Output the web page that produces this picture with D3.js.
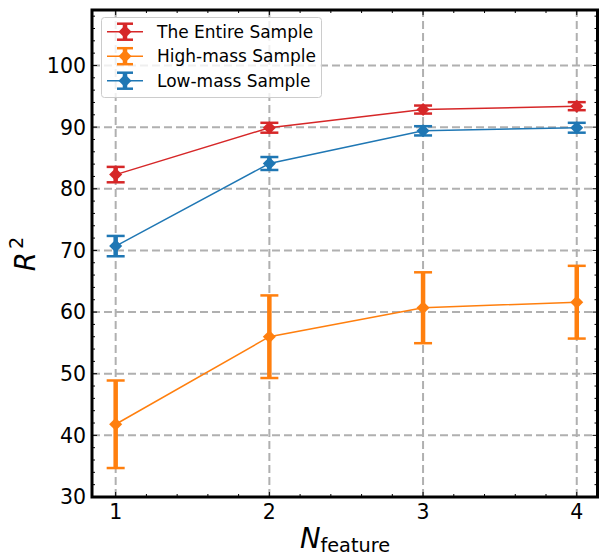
<!DOCTYPE html>
<html>
<head>
<meta charset="utf-8">
<script src="https://cdn.jsdelivr.net/npm/d3@7"></script>
<style>
  body { margin: 0; background: white; }
  text { font-family: "DejaVu Sans", sans-serif; }
</style>
</head>
<body>
<svg id="chart" width="600" height="557"></svg>
<script>
// data
const nFeature = [1, 2, 3, 4];
const entireR2 = [82.3, 89.9, 92.85, 93.4];
const entireErr = [1.25, 0.8, 0.65, 0.65];
const highR2 = [41.8, 56.0, 60.7, 61.6];
const highErr = [7.1, 6.7, 5.75, 5.9];
const lowR2 = [70.7, 84.1, 89.4, 89.9];
const lowErr = [1.65, 1.05, 0.75, 0.8];
const seriesNames = ["The Entire Sample", "High-mass Sample", "Low-mass Sample"];
const seriesColors = ["#d62728", "#ff7f0e", "#1f77b4"];
const xTicks = [1, 2, 3, 4];
const yTicks = [30, 40, 50, 60, 70, 80, 90, 100];

const series = [
  {name: seriesNames[0], color: seriesColors[0], y: entireR2, err: entireErr},
  {name: seriesNames[1], color: seriesColors[1], y: highR2, err: highErr},
  {name: seriesNames[2], color: seriesColors[2], y: lowR2, err: lowErr}
];

const svg = d3.select("#chart");
const pLeft = 92, pRight = 597.5, pTop = 10, pBottom = 497;

const x = d3.scaleLinear().domain([0.846, 4.135]).range([pLeft, pRight]);
const y = d3.scaleLinear().domain([30, 109]).range([pBottom, pTop]);

// grid
const grid = svg.append("g");
grid.selectAll(".gx").data(xTicks).enter().append("line")
  .attr("x1", d => x(d)).attr("x2", d => x(d))
  .attr("y1", pBottom).attr("y2", pTop)
  .attr("stroke", "#b0b0b0").attr("stroke-width", 2).attr("stroke-dasharray", "8,4");
grid.selectAll(".gy").data(yTicks).enter().append("line")
  .attr("x1", pLeft).attr("x2", pRight)
  .attr("y1", d => y(d)).attr("y2", d => y(d))
  .attr("stroke", "#b0b0b0").attr("stroke-width", 2).attr("stroke-dasharray", "8,4");

// ticks on all four sides, pointing in
const xMinor = d3.range(0.8, 4.2, 0.2).filter(v => x(v) > pLeft + 1 && x(v) < pRight - 1 && Math.abs(v - Math.round(v)) > 0.01);
const yMinor = d3.range(30, 110, 2).filter(v => v % 10 != 0);
const ticks = svg.append("g").attr("stroke", "black").attr("stroke-width", 1);
function xTickMarks(vals, len) {
  ticks.selectAll(null).data(vals).enter().append("line")
    .attr("x1", d => x(d)).attr("x2", d => x(d)).attr("y1", pBottom).attr("y2", pBottom - len);
  ticks.selectAll(null).data(vals).enter().append("line")
    .attr("x1", d => x(d)).attr("x2", d => x(d)).attr("y1", pTop).attr("y2", pTop + len);
}
function yTickMarks(vals, len) {
  ticks.selectAll(null).data(vals).enter().append("line")
    .attr("y1", d => y(d)).attr("y2", d => y(d)).attr("x1", pLeft).attr("x2", pLeft + len);
  ticks.selectAll(null).data(vals).enter().append("line")
    .attr("y1", d => y(d)).attr("y2", d => y(d)).attr("x1", pRight).attr("x2", pRight - len);
}
xTickMarks(xTicks, 5); xTickMarks(xMinor, 3);
yTickMarks(yTicks, 5); yTickMarks(yMinor, 3);

// tick labels
svg.append("g").selectAll("text").data(xTicks).enter().append("text")
  .attr("x", d => x(d)).attr("y", 518.5)
  .attr("text-anchor", "middle").attr("font-size", 20.5).attr("fill", "black")
  .text(d => d);
svg.append("g").selectAll("text").data(yTicks).enter().append("text")
  .attr("x", 86).attr("y", d => y(d)).attr("dy", "0.36em")
  .attr("text-anchor", "end").attr("font-size", 20.5).attr("fill", "black")
  .text(d => d);

// series: line, error bars, markers
const diamond = d3.symbol().type(d3.symbolSquare).size(85);
series.forEach(s => {
  const pts = nFeature.map((n, i) => ({x: n, y: s.y[i], e: s.err[i]}));
  const g = svg.append("g");
  g.append("path").datum(pts)
    .attr("d", d3.line().x(d => x(d.x)).y(d => y(d.y)))
    .attr("fill", "none").attr("stroke", s.color).attr("stroke-width", 1.5);
  g.selectAll(".eb").data(pts).enter().append("line")
    .attr("x1", d => x(d.x)).attr("x2", d => x(d.x))
    .attr("y1", d => y(d.y - d.e)).attr("y2", d => y(d.y + d.e))
    .attr("stroke", s.color).attr("stroke-width", 4.5);
  [-1, 1].forEach(sign => {
    g.selectAll(null).data(pts).enter().append("line")
      .attr("x1", d => x(d.x) - 9).attr("x2", d => x(d.x) + 9)
      .attr("y1", d => y(d.y + sign * d.e)).attr("y2", d => y(d.y + sign * d.e))
      .attr("stroke", s.color).attr("stroke-width", 2.5);
  });
  g.selectAll(".mk").data(pts).enter().append("path")
    .attr("d", diamond)
    .attr("transform", d => `translate(${x(d.x)},${y(d.y)}) rotate(45)`)
    .attr("fill", s.color);
});

// spines
svg.append("rect")
  .attr("x", pLeft).attr("y", pTop).attr("width", pRight - pLeft).attr("height", pBottom - pTop)
  .attr("fill", "none").attr("stroke", "black").attr("stroke-width", 3);

// legend
const lg = svg.append("g");
lg.append("rect").attr("x", 101.5).attr("y", 17.5).attr("width", 220).attr("height", 80).attr("rx", 3)
  .attr("fill", "white").attr("fill-opacity", 0.8).attr("stroke", "#cccccc").attr("stroke-width", 1);
series.forEach((s, i) => {
  const cy = 31.7 + i * 24.5;
  lg.append("line").attr("x1", 107).attr("x2", 143).attr("y1", cy).attr("y2", cy)
    .attr("stroke", s.color).attr("stroke-width", 1.5);
  lg.append("line").attr("x1", 125).attr("x2", 125).attr("y1", cy - 8).attr("y2", cy + 8)
    .attr("stroke", s.color).attr("stroke-width", 4.5);
  [-8, 8].forEach(o => {
    lg.append("line").attr("x1", 117).attr("x2", 133).attr("y1", cy + o).attr("y2", cy + o)
      .attr("stroke", s.color).attr("stroke-width", 2.5);
  });
  lg.append("path").attr("d", diamond).attr("transform", `translate(125,${cy}) rotate(45)`).attr("fill", s.color);
  lg.append("text").attr("x", 157).attr("y", cy + 6).attr("font-size", 17).attr("fill", "black").text(s.name);
});

// axis labels
const xl = svg.append("text").attr("x", 345).attr("y", 548).attr("text-anchor", "middle").attr("fill", "black");
xl.append("tspan").attr("font-size", 27.5).attr("font-style", "italic").text("N");
xl.append("tspan").attr("font-size", 19.3).attr("dy", 4).text("feature");

const yl = svg.append("text").attr("transform", "translate(35,254) rotate(-90)")
  .attr("text-anchor", "middle").attr("fill", "black");
yl.append("tspan").attr("font-size", 27.5).attr("font-style", "italic").text("R");
yl.append("tspan").attr("font-size", 19.3).attr("dy", -12).attr("dx", 3).text("2");
</script>
</body>
</html>
